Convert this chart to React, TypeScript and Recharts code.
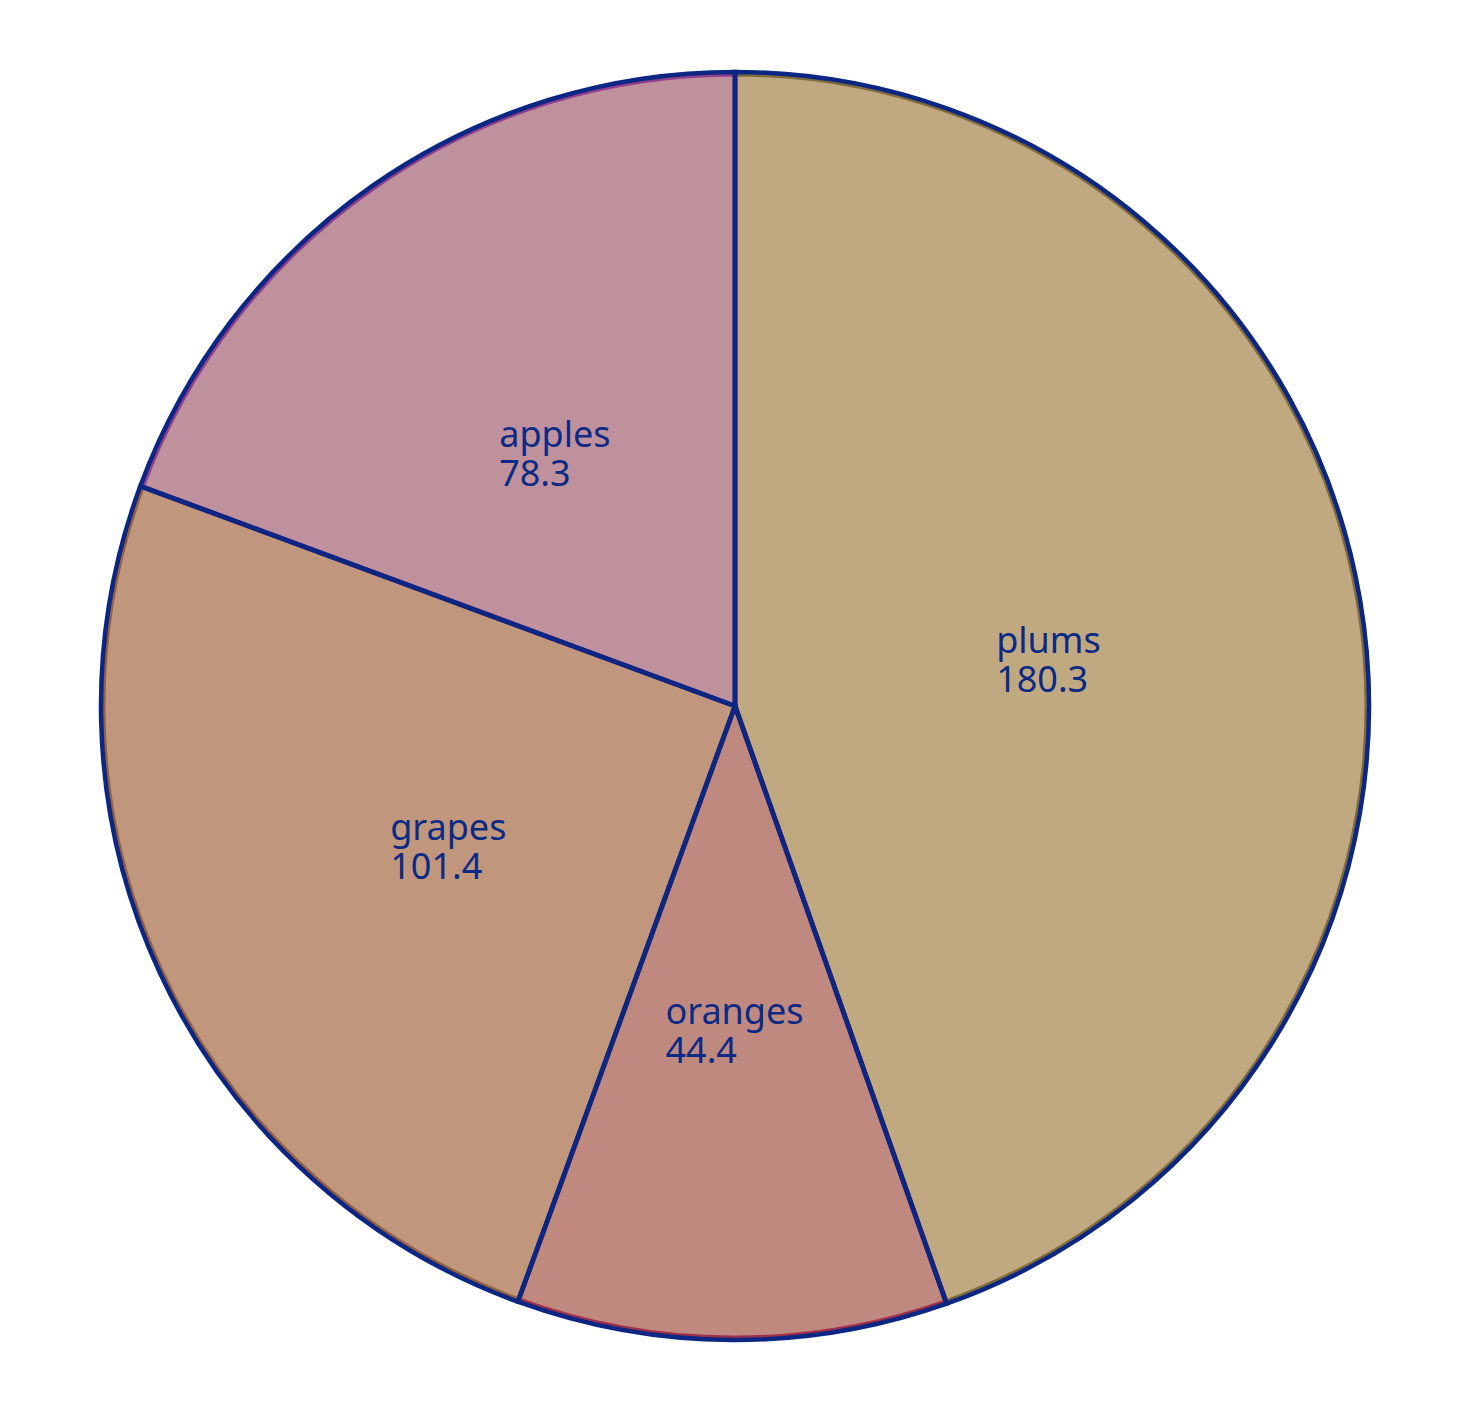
import { PieChart, Pie, Cell } from 'recharts';

const fruits = ['plums', 'oranges', 'grapes', 'apples'];
const amounts = [180.3, 44.4, 101.4, 78.3];
const fills = ['#c0a980', '#bf897f', '#c0977c', '#bf919d'];
const edges = ['#7f6a3c', '#a0304a', '#94603f', '#8f3f8c'];

const data = fruits.map((name, i) => ({ name, value: amounts[i] }));

const STROKE = '#0c2683';
const TEXT = '#0b2a85';
const FONT = '"Noto Sans", "Open Sans", sans-serif';
const FONT_SIZE = 36;
const RADIAN = Math.PI / 180;

let ctx: CanvasRenderingContext2D | null = null;
function measure(s: string) {
  if (!ctx) ctx = document.createElement('canvas').getContext('2d');
  if (!ctx) return s.length * FONT_SIZE * 0.55;
  ctx.font = `${FONT_SIZE}px "Noto Sans"`;
  return ctx.measureText(s).width;
}

function renderLabel(props: any) {
  const { cx, cy, midAngle, outerRadius, name, value } = props;
  const r = outerRadius * 0.5;
  const x = cx + r * Math.cos(-midAngle * RADIAN);
  const y = cy + r * Math.sin(-midAngle * RADIAN);
  const lines = [name, String(value)];
  const w = Math.max(...lines.map(measure));
  const left = x - w / 2 + 1;
  return (
    <text x={left} y={y} fill={TEXT} fontFamily={FONT} fontSize={FONT_SIZE} textAnchor="start">
      <tspan x={left} y={y + 1}>{lines[0]}</tspan>
      <tspan x={left} y={y + 40}>{lines[1]}</tspan>
    </text>
  );
}

export default function App() {
  return (
    <div style={{ position: 'absolute', left: 0, top: 0, width: 1470, height: 1415, background: '#fff' }}>
      <PieChart width={1470} height={1415} margin={{ top: 0, right: 0, bottom: 0, left: 0 }}>
        <Pie
          data={data}
          dataKey="value"
          nameKey="name"
          cx={735}
          cy={706}
          outerRadius={632}
          startAngle={90}
          endAngle={-270}
          strokeWidth={5}
          isAnimationActive={false}
          labelLine={false}
        >
          {data.map((d, i) => (
            <Cell key={d.name} fill={fills[i]} stroke={edges[i]} strokeWidth={5} />
          ))}
        </Pie>
        <Pie
          data={data}
          dataKey="value"
          nameKey="name"
          cx={735}
          cy={706}
          outerRadius={634}
          startAngle={90}
          endAngle={-270}
          fill="none"
          stroke={STROKE}
          strokeWidth={4.5}
          isAnimationActive={false}
          labelLine={false}
          label={renderLabel}
        >
          {data.map((d) => (
            <Cell key={d.name} fill="none" stroke={STROKE} strokeWidth={4.5} />
          ))}
        </Pie>
      </PieChart>
    </div>
  );
}
